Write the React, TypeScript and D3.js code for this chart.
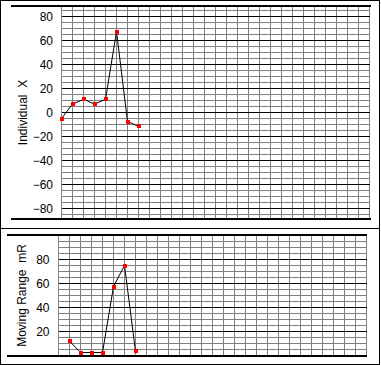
import React from 'react'
import * as d3 from 'd3'

// Individual X values, one per sample
const xValues = [-5, 7, 11, 7, 11, 67.5, -7.5, -11.5]
// moving range values, starting at sample 2
const mrValues = [12, 2.5, 2.5, 2.5, 57.5, 75, 3.5]

const xTicks = [-80, -60, -40, -20, 0, 20, 40, 60, 80]
const mrTicks = [20, 40, 60, 80]
const xTitle = 'Individual  X'
const mrTitle = 'Moving Range  mR'

const W = 381
const H = 365
const SLOTS = 28
const FONT = '"Liberation Sans", Arial, sans-serif'
const fmt = (v: number) => (v < 0 ? '\u2212' + Math.abs(v) : String(v))

type PanelProps = {
  values: number[]
  offset: number
  domain: [number, number]
  yRange: [number, number]
  gridLeft: number
  thickLeft: number
  thickRight: number
  ticks: number[]
  labelX: number
  title: string
  titleX: number
}

const Panel = ({values, offset, domain, yRange, gridLeft, thickLeft, thickRight, ticks, labelX, title, titleX}: PanelProps) => {
  const x = d3.scaleLinear().domain([0, SLOTS]).range([gridLeft, gridLeft + SLOTS * 11])
  const y = d3.scaleLinear().domain(domain).range(yRange)
  const [lo, hi] = domain
  const minor = d3.range(Math.ceil(lo / 5) * 5, hi, 5).filter(v => v > lo && v < hi && v % 20 !== 0)
  const major = d3.range(Math.ceil(lo / 20) * 20, hi, 20).filter(v => v > lo && v < hi)
  const top = y(hi)
  const bottom = y(lo)
  const line = d3.line<number>()
    .x((_, i) => x(i + offset))
    .y(d => y(d))

  return <g>
    {d3.range(0, SLOTS + 1).map(i =>
      <line key={'v' + i} x1={x(i)} x2={x(i)} y1={top} y2={bottom} stroke="#808080" strokeWidth={1} shapeRendering="crispEdges" />
    )}
    {minor.map(v =>
      <line key={'m' + v} x1={gridLeft} x2={x(SLOTS)} y1={y(v)} y2={y(v)} stroke="#808080" strokeWidth={1} shapeRendering="crispEdges" />
    )}
    {major.map(v =>
      <line key={'M' + v} x1={gridLeft} x2={x(SLOTS)} y1={y(v)} y2={y(v)} stroke="#000" strokeWidth={1} shapeRendering="crispEdges" />
    )}
    <rect x={thickLeft} y={Math.floor(top - 1)} width={thickRight - thickLeft} height={2} fill="#000" shapeRendering="crispEdges" />
    <rect x={thickLeft} y={Math.floor(bottom - 0.5)} width={thickRight - thickLeft} height={2} fill="#000" shapeRendering="crispEdges" />
    {ticks.map(v =>
      <text key={'t' + v} x={labelX} y={y(v)} dy="0.36em" textAnchor="end" fontSize={12} fontFamily={FONT} fill="#000">{fmt(v)}</text>
    )}
    <text transform={`translate(${titleX},${(top + bottom) / 2}) rotate(-90)`} textAnchor="middle" fontSize={12} fontFamily={FONT} fill="#000" style={{whiteSpace: 'pre'}}>{title}</text>
    <path d={line(values) ?? ''} fill="none" stroke="#000" strokeWidth={1} />
    {values.map((d, i) =>
      <rect key={'p' + i} x={x(i + offset) - 2} y={y(d) - 2} width={4} height={4} fill="#ff0000" shapeRendering="crispEdges" />
    )}
  </g>
}

export default function App() {
  return <svg width={W} height={H} style={{position: 'absolute', left: 0, top: 0, display: 'block', background: '#fff'}}>
    <rect x={0.5} y={0.5} width={379} height={364} fill="#fff" stroke="#000" strokeWidth={1} shapeRendering="crispEdges" />
    <line x1={0} x2={380} y1={228.5} y2={228.5} stroke="#000" strokeWidth={1} shapeRendering="crispEdges" />
    <Panel
      values={xValues} offset={0}
      domain={[-88.75, 88.75]} yRange={[219, 6]}
      gridLeft={61.5} thickLeft={11} thickRight={371}
      ticks={xTicks} labelX={53} title={xTitle} titleX={26.5}
    />
    <Panel
      values={mrValues} offset={1}
      domain={[0, 100]} yRange={[355.5, 235.5]}
      gridLeft={58.5} thickLeft={7} thickRight={367}
      ticks={mrTicks} labelX={49.5} title={mrTitle} titleX={25.5}
    />
  </svg>
}
